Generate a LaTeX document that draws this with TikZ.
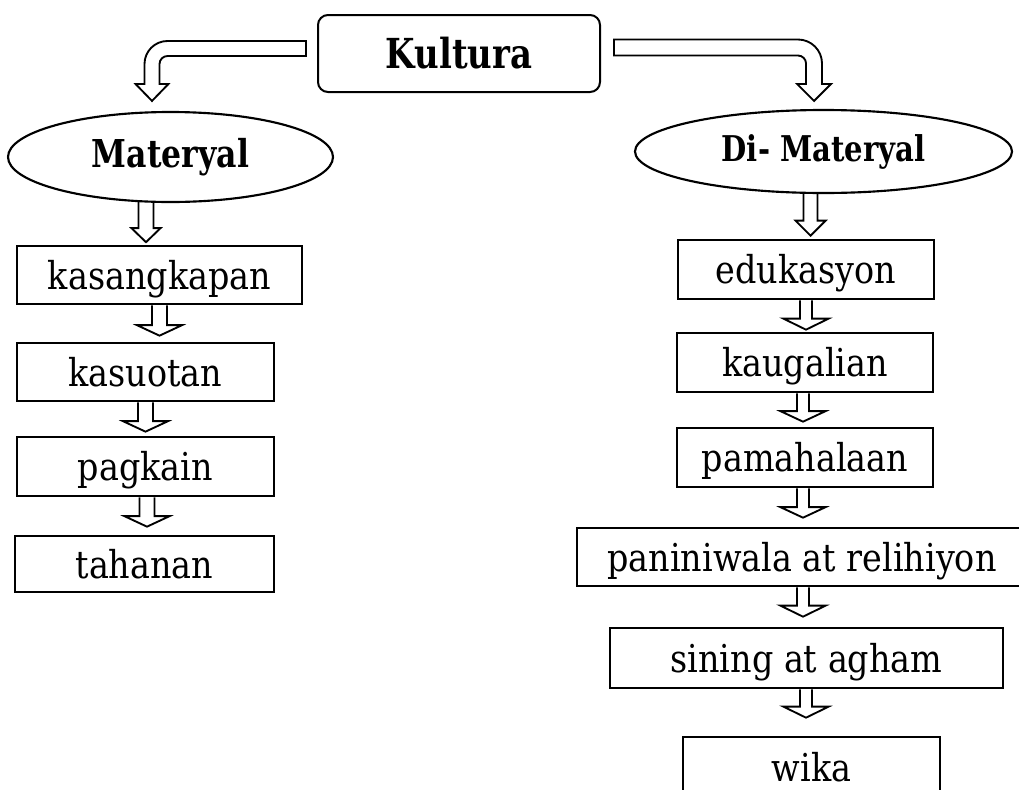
\documentclass[tikz,border=0pt]{standalone}
\usepackage{fontspec}
\setmainfont{DejaVu Serif}[FakeStretch=0.87, BoldFeatures={FakeStretch=0.82}]
\usetikzlibrary{calc,shapes.geometric}
\newcommand{\myu}{0.75pt}
\newcommand{\regfont}{\fontsize{28.8}{30}\selectfont}
\tikzset{
  bx/.style 2 args={draw, line width=2pt, minimum width=#1, minimum height=#2, inner sep=0pt,
    text height=21pt, text depth=0pt, font=\regfont},
  ell/.style 2 args={draw, ellipse, line width=1.6pt, minimum width=#1, minimum height=#2, inner sep=0pt},
  arrowline/.style={draw, line width=1.4pt, line join=miter}
}
% #1 start, #2 tip, #3 bar half width, #4 head half width, #5 head length (px)
\newcommand{\downarr}[5]{%
  \draw[arrowline] let \p1=#1, \p2=#2 in
   (\x2-#3*\myu,\y1) -- (\x2-#3*\myu,\y2+#5*\myu) -- (\x2-#4*\myu,\y2+#5*\myu) -- (\x2,\y2)
   -- (\x2+#4*\myu,\y2+#5*\myu) -- (\x2+#3*\myu,\y2+#5*\myu) -- (\x2+#3*\myu,\y1);}
\begin{document}
\begin{tikzpicture}[x=0.75pt,y=-0.75pt]
\useasboundingbox (0,0) rectangle (1019,789);
\clip (0,0) rectangle (1019,789);
% top
\node[draw, rounded corners=7.5pt, line width=1.5pt, minimum width=211.5pt, minimum height=57.75pt, inner sep=0pt,
  font=\fontsize{31}{32}\selectfont\bfseries] (kul) at (459,53.5) {Kultura};
\node[ell={243.75pt}{67.5pt}, font=\fontsize{28.8}{30}\selectfont\bfseries] (mat) at (170.5,157) {Materyal};
\node[ell={282.75pt}{62.25pt}, font=\fontsize{26.6}{28}\selectfont\bfseries] (dim) at (823.5,151.5) {Di- Materyal};
% left column
\node[bx={213.75pt}{43.5pt}] (kas) at (159.5,275) {kasangkapan};
\node[bx={192.75pt}{43.5pt}] (kasu) at (145.5,372) {kasuotan};
\node[bx={192.75pt}{44.25pt}] (pag) at (145.5,466.5) {pagkain};
\node[bx={194.25pt}{42pt}] (tah) at (144.5,564) {tahanan};
% right column
\node[bx={192pt}{44.25pt}] (edu) at (806,269.5) {edukasyon};
\node[bx={192pt}{44.25pt}] (kau) at (805,362.5) {kaugalian};
\node[bx={192pt}{44.25pt}] (pam) at (805,457.5) {pamahalaan};
\node[bx={337.5pt}{43.5pt}] (pan) at (802,557) {paniniwala at relihiyon};
\node[bx={294.75pt}{45pt}] (sin) at (806.5,658) {sining at agham};
\node[bx={192.75pt}{45pt}] (wik) at (811.5,767) {wika};
% bent arrows from Kultura
\draw[arrowline] let \p1=($(kul.west)+(-11,-5)$), \p2=($(mat.north)+(-18.5,-10)$) in
  (\x1,\y1+7.5*\myu) -- (\x2+15.5*\myu,\y1+7.5*\myu) arc[start angle=90,end angle=180,radius=23*\myu]
  -- (\x2-7.5*\myu,\y2+17*\myu) -- (\x2-16.5*\myu,\y2+17*\myu) -- (\x2,\y2)
  -- (\x2+16.5*\myu,\y2+17*\myu) -- (\x2+7.5*\myu,\y2+17*\myu) -- (\x2+7.5*\myu,\y1-15.5*\myu)
  arc[start angle=180,end angle=90,radius=8*\myu] -- (\x1,\y1-7.5*\myu) -- cycle;
\draw[arrowline] let \p1=($(kul.east)+(13,-6)$), \p2=($(dim.north)+(-9.5,-8)$) in
  (\x1,\y1+8*\myu) -- (\x2-16*\myu,\y1+8*\myu) arc[start angle=90,end angle=0,radius=24*\myu]
  -- (\x2+8*\myu,\y2+17*\myu) -- (\x2+17*\myu,\y2+17*\myu) -- (\x2,\y2)
  -- (\x2-17*\myu,\y2+17*\myu) -- (\x2-8*\myu,\y2+17*\myu) -- (\x2-8*\myu,\y1-16*\myu)
  arc[start angle=0,end angle=90,radius=8*\myu] -- (\x1,\y1-8*\myu) -- cycle;
% ellipse arrows
\downarr{($(mat.south)+(-24.5,-1)$)}{($(kas.north)+(-13.5,-2.5)$)}{7.5}{14.5}{14}
\downarr{($(dim.south)+(-13,-1)$)}{($(edu.north)+(4.5,-3)$)}{7}{15}{15}
% left chain
\downarr{(kas.south)}{($(kas.south |- kasu.north)+(0,-6)$)}{7.5}{22.5}{10.5}
\downarr{(kasu.south)}{($(kasu.south |- pag.north)+(0,-4)$)}{7.5}{22.5}{10.5}
\downarr{(pag.south)}{($(pag.south |- tah.north)+(1.5,-8)$)}{7.5}{22.5}{10.5}
% right chain
\downarr{(edu.south)}{($(edu.south |- kau.north)+(0,-2)$)}{6}{22.5}{11}
\downarr{(kau.south)}{($(kau.south |- pam.north)+(-2,-5)$)}{6}{22.5}{10.5}
\downarr{(pam.south)}{($(pam.south |- pan.north)+(-2,-9)$)}{6}{22.5}{10.5}
\downarr{(pan.south)}{($(pan.south |- sin.north)+(1,-10)$)}{6}{22.5}{11}
\downarr{(sin.south)}{($(sin.south |- wik.north)+(-0.5,-18)$)}{6}{22.5}{11}
\end{tikzpicture}
\end{document}
